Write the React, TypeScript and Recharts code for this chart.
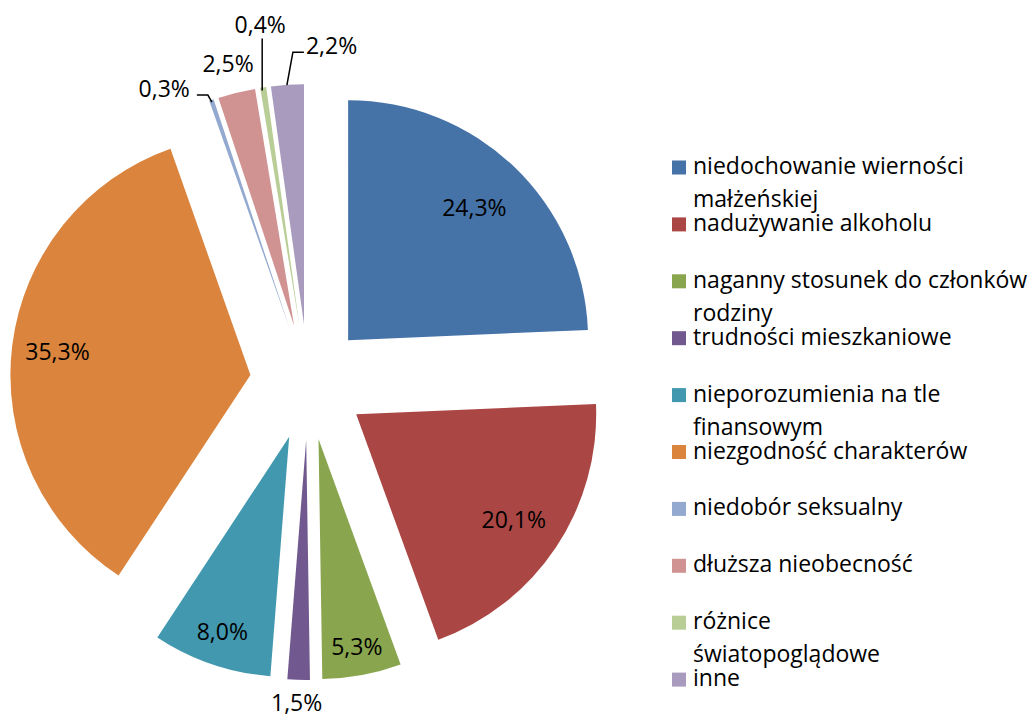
import React from 'react';
import { PieChart, Pie, Cell, Sector, Legend } from 'recharts';

// ---- data ----
const categories = [
  'niedochowanie wierności małżeńskiej',
  'nadużywanie alkoholu',
  'naganny stosunek do członków rodziny',
  'trudności mieszkaniowe',
  'nieporozumienia na tle finansowym',
  'niezgodność charakterów',
  'niedobór seksualny',
  'dłuższa nieobecność',
  'różnice światopoglądowe',
  'inne',
];
const values = [24.3, 20.1, 5.3, 1.5, 8.0, 35.3, 0.3, 2.5, 0.4, 2.2];
const colors = [
  '#4572A7', '#AA4643', '#89A54E', '#71588F', '#4198AF',
  '#DB843D', '#93A9CF', '#D19392', '#B9CD96', '#A99BBD',
];

const data = categories.map((name, i) => ({ name, value: values[i] }));

// ---- layout ----
const W = 1032;
const H = 715;
const CX = 308;
const CY = 382;
const R = 240;
const EXPLODE = 58;
const FONT = '"Open Sans", "DejaVu Sans", sans-serif';
const FS = 23;
const RAD = Math.PI / 180;

const polar = (cx: number, cy: number, r: number, angle: number) => ({
  x: cx + r * Math.cos(-angle * RAD),
  y: cy + r * Math.sin(-angle * RAD),
});

const fmt = (v: number) => `${v.toFixed(1).replace('.', ',')}%`;

const insideFactor: Record<number, number> = { 0: 0.76, 1: 0.79, 2: 0.88, 4: 0.86, 5: 0.81 };
type Outside = { dx: number; dy: number; anchor: 'start' | 'middle' | 'end'; line?: Array<[number, number]> };
const outside: Record<number, Outside> = {
  3: { dx: -2, dy: 23, anchor: 'middle' },
  6: { dx: -21.5, dy: -11, anchor: 'end', line: [[0.5, 2], [-3.5, -5], [-14.5, -5]] },
  7: { dx: -8.5, dy: -29, anchor: 'middle' },
  8: { dx: -3, dy: -62, anchor: 'middle', line: [[-1, 3], [-1, -49]] },
  9: { dx: 18.5, dy: -38.6, anchor: 'start', line: [[-0.5, 0.5], [5.5, -32.5], [16.5, -32.5]] },
};

const midOf = (p: any) => (p.midAngle != null ? p.midAngle : (p.startAngle + p.endAngle) / 2);

const ExplodedSector = (props: any) => {
  const mid = midOf(props);
  const c = polar(props.cx, props.cy, EXPLODE, mid);
  return <Sector {...props} cx={c.x} cy={c.y} stroke="none" />;
};

const renderLabel = (p: any) => {
  const { cx, cy, outerRadius, index } = p;
  const mid = midOf(p);
  const apex = polar(cx, cy, EXPLODE, mid);
  const text = fmt(values[index]);
  const common = { fontFamily: FONT, fontSize: FS, fill: '#000' };
  if (insideFactor[index] != null) {
    const pt = polar(apex.x, apex.y, outerRadius * insideFactor[index], mid);
    return (
      <text key={`l${index}`} x={pt.x} y={pt.y + 8} textAnchor="middle" {...common}>
        {text}
      </text>
    );
  }
  const o = polar(apex.x, apex.y, outerRadius, mid);
  const cfg = outside[index];
  if (!cfg) return null;
  return (
    <g key={`l${index}`}>
      {cfg.line && (
        <polyline
          points={cfg.line.map(([dx, dy]) => `${o.x + dx},${o.y + dy}`).join(' ')}
          fill="none"
          stroke="#000"
          strokeWidth={1.5}
        />
      )}
      <text x={o.x + cfg.dx} y={o.y + cfg.dy + 8} textAnchor={cfg.anchor} {...common}>
        {text}
      </text>
    </g>
  );
};

// legend: number of words on the first line of wrapped entries
const legendBreak: Record<number, number> = { 0: 2, 2: 4, 4: 3, 8: 1 };
const LEG_LEFT = 660;
const LEG_BOX_X = 672;
const LEG_TEXT_X = 693;
const LEG_Y0 = 174;
const LEG_STEP = 56.9;
const LEG_WRAP = 33;

const renderLegend = (props: any) => {
  const payload: any[] = props?.payload ?? [];
  return (
    <svg width={W - LEG_LEFT} height={H} style={{ display: 'block' }}>
      {categories.map((name, i) => {
        const item = payload.find((p) => p?.value === name);
        const color: string = item?.color ?? colors[i];
        const words = name.split(' ');
        const n = legendBreak[i] ?? words.length;
        const lines = [words.slice(0, n).join(' '), words.slice(n).join(' ')].filter(Boolean);
        const base = LEG_Y0 + i * LEG_STEP;
        return (
          <g key={i}>
            <rect x={LEG_BOX_X - LEG_LEFT} y={base - 13.5} width={14} height={14} fill={color} />
            <text fontFamily={FONT} fontSize={FS} fill="#000">
              {lines.map((l, j) => (
                <tspan key={j} x={LEG_TEXT_X - LEG_LEFT} y={base + j * LEG_WRAP}>
                  {l}
                </tspan>
              ))}
            </text>
          </g>
        );
      })}
    </svg>
  );
};

export default function App() {
  return (
    <div style={{ position: 'absolute', left: 0, top: 0, width: W, height: H, background: '#fff' }}>
      <PieChart width={W} height={H} margin={{ top: 0, right: 0, bottom: 0, left: 0 }}>
        <Pie
          data={data}
          dataKey="value"
          nameKey="name"
          cx={CX}
          cy={CY}
          outerRadius={R}
          startAngle={90}
          endAngle={-270}
          stroke="none"
          isAnimationActive={false}
          shape={ExplodedSector}
          label={renderLabel}
          labelLine={false}
        >
          {data.map((d, i) => (
            <Cell key={d.name} fill={colors[i]} />
          ))}
        </Pie>
        <Legend
          layout="vertical"
          align="right"
          verticalAlign="top"
          content={renderLegend}
          wrapperStyle={{ left: LEG_LEFT, top: 0, width: W - LEG_LEFT, height: H }}
        />
      </PieChart>
    </div>
  );
}
